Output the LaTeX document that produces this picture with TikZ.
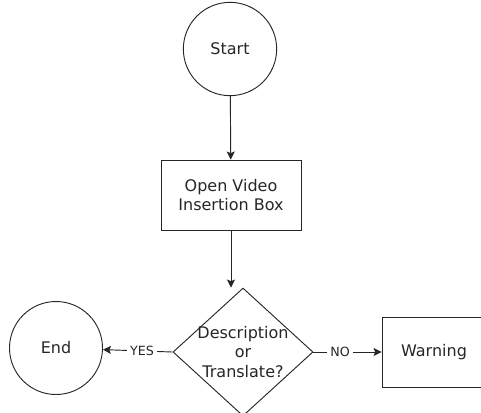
\documentclass[tikz,border=0pt]{standalone}
\usepackage{fontspec}
\setmainfont{DejaVu Sans}
\usetikzlibrary{shapes.geometric,arrows.meta}

\begin{document}
\begin{tikzpicture}[x=0.75pt,y=-0.75pt,line width=0.7pt,>={Stealth[length=6pt,width=6pt,inset=1.2pt]},
    every node/.style={font=\fontsize{12}{14.5}\selectfont,text=black!85},
    term/.style={draw=black!85,circle,minimum size=70pt,inner sep=0pt},
    proc/.style={draw=black!85,rectangle,minimum width=105pt,minimum height=52.5pt,align=center},
    decide/.style={draw=black!85,diamond,minimum width=105pt,minimum height=96pt,inner sep=0pt},
    lab/.style={font=\fontsize{9.5}{11}\selectfont,fill=white,inner sep=2.5pt}]
    \useasboundingbox (0,0) rectangle (481,412);
    \node[term] (start) at (230,49) {Start};
    \node[proc] (open) at (231,195) {Open Video\\Insertion Box};
    \node[decide] (dec) at (243,352) {};
    \node[align=center] (dectext) at (dec) {Description\\or\\Translate?};
    \node[term,minimum size=69.75pt] (end) at (56,348) {End};
    \node[proc,minimum width=78pt] (warn) at (434,352) {Warning};
    \draw[->,black!85] (start) -- (open);
    \draw[->,black!85] (open.south) -- (open.south |- dec.north);
    \draw[->,black!85] (dec.west) -- node[lab,pos=.44]{YES} (end);
    \draw[->,black!85] (dec.east) -- node[lab,pos=.39]{NO} (warn);
\end{tikzpicture}
\end{document}
